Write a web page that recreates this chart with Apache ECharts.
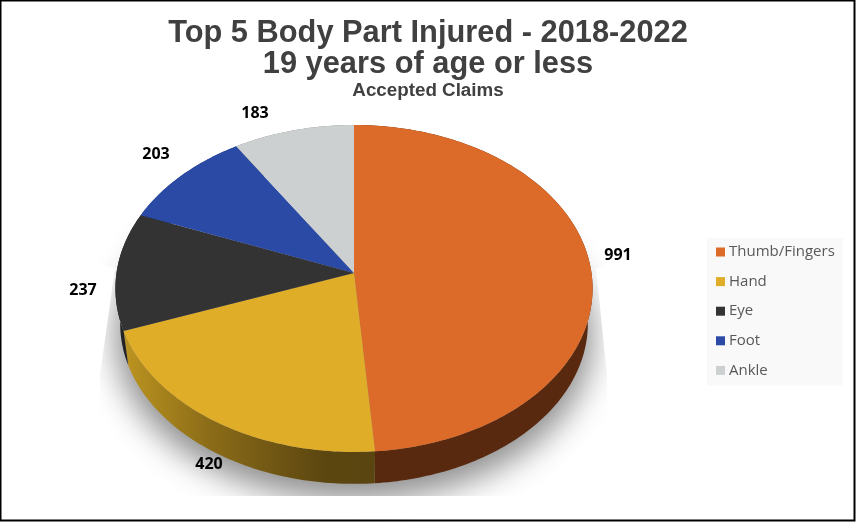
<!DOCTYPE html>
<html>
<head>
<meta charset="utf-8">
<style>html,body{margin:0;padding:0;background:#fff}#c{width:856px;height:522px}</style>
<script src="https://cdn.jsdelivr.net/npm/echarts@6/dist/echarts.min.js"></script>
</head>
<body>
<div id="c"></div>
<script>
const categories = ['Thumb/Fingers', 'Hand', 'Eye', 'Foot', 'Ankle'];
const claims = [991, 420, 237, 203, 183];
const titleLines = ['Top 5 Body Part Injured - 2018-2022', '19 years of age or less', 'Accepted Claims'];
const faceColors = ['#DC6A28', '#E0AD28', '#333333', '#2A4AA5', '#CCD0D0'];
const labelAnchors = [[618, 255.5], [209, 464], [83, 290], [156, 154], [255, 113]];

const total = claims.reduce((a, b) => a + b, 0);
const apex = [354, 273], R = 237.5, A = 162, K = 0.0947;
const wallScale = 0.98, wallDrop = 35.5;

function rim(frac, scale, drop) {
  const t = frac * Math.PI * 2, u = Math.sin(t), v = -Math.cos(t), d = 1 - K * v;
  return [apex[0] + scale * R * u / d, apex[1] + scale * A * v / d + drop];
}
function arc(f0, f1, scale, drop) {
  const n = Math.max(4, Math.ceil((f1 - f0) * 360)), pts = [];
  for (let i = 0; i <= n; i++) pts.push(rim(f0 + (f1 - f0) * i / n, scale, drop));
  return pts;
}
const wallFill = i => i === 1
  ? new echarts.graphic.LinearGradient(0, 0, 1, 0, [
      { offset: 0, color: '#BC9420' }, { offset: 0.35, color: '#8A6B18' },
      { offset: 0.8, color: '#5C4610' }, { offset: 1, color: '#5A4510' }])
  : ['#58290F', '', '#222222', '#1A2C60', '#808282'][i];

let running = 0;
const sliceSeries = categories.map((name, i) => {
  const start = running; running += claims[i];
  return {
    type: 'custom', name, coordinateSystem: 'none', silent: true, animation: false,
    itemStyle: { color: faceColors[i] },
    data: [[start, claims[i]]],
    renderItem: (params, api) => {
      const f0 = api.value(0) / total, val = api.value(1), f1 = f0 + val / total;
      const top = arc(f0, f1, 1, 0);
      const wall = top.concat(arc(f0, f1, wallScale, wallDrop).reverse());
      return { type: 'group', children: [
        { type: 'polygon', z2: 1, shape: { points: wall }, style: { fill: wallFill(i) } },
        { type: 'polygon', z2: 2, shape: { points: [apex].concat(top) }, style: { fill: faceColors[i] } },
        { type: 'text', z2: 3, x: labelAnchors[i][0], y: labelAnchors[i][1],
          style: { text: String(val), fill: '#000', font: 'bold 16px "Open Sans"', align: 'center', verticalAlign: 'middle' } }
      ] };
    }
  };
});

const offscreen = 2000;
const whiteMask = pts => ({ type: 'polygon', z2: 1, shape: { points: pts }, style: { fill: '#fff' } });
const shadowSeries = {
  type: 'custom', name: 'shadow', coordinateSystem: 'none', silent: true, animation: false, z: 1,
  data: [[total]],
  renderItem: () => ({ type: 'group', children: [
    { type: 'polygon', z2: 0,
      shape: { points: arc(0.15, 0.85, 1.0, 48).map(p => [p[0] - offscreen, p[1]]) },
      style: { fill: '#8E8E8E', shadowBlur: 32, shadowColor: '#8E8E8E', shadowOffsetX: offscreen } },
    whiteMask([[3, 250], [115, 268], [100, 375], [100, 497], [3, 497]]),
    whiteMask([[596, 268], [607, 375], [607, 497], [700, 497], [700, 250]]),
    whiteMask([[3, 496], [700, 496], [700, 519], [3, 519]])
  ] })
};

const chart = echarts.init(document.getElementById('c'), null, { renderer: 'canvas' });
const bold = size => ({ fontFamily: 'Liberation Sans', fontWeight: 'bold', fontSize: size, color: '#404040' });
chart.setOption({
  animation: false,
  backgroundColor: '#fff',
  title: [
    { text: titleLines[0], left: 'center', top: 13.5, textStyle: bold(30.8) },
    { text: titleLines[1], left: 'center', top: 44.5, textStyle: bold(30.8) },
    { text: titleLines[2], left: 'center', top: 76, textStyle: bold(18.8) }
  ],
  legend: {
    data: categories, orient: 'vertical', left: 707, top: 238,
    padding: [4, 8, 5, 9], itemGap: 9.6, itemWidth: 9, itemHeight: 9, selectedMode: false,
    icon: 'rect', backgroundColor: '#F9F9F9',
    textStyle: { fontFamily: 'Open Sans', fontSize: 15, color: '#595959', padding: [0, 0, 0, -1], height: 20, lineHeight: 20 }
  },
  graphic: [{ type: 'rect', z: 100, silent: true, shape: { x: 0.5, y: 0.5, width: 854, height: 520 }, style: { fill: 'transparent', stroke: '#000', lineWidth: 2 } }],
  series: [shadowSeries].concat(sliceSeries)
});
</script>
</body>
</html>
